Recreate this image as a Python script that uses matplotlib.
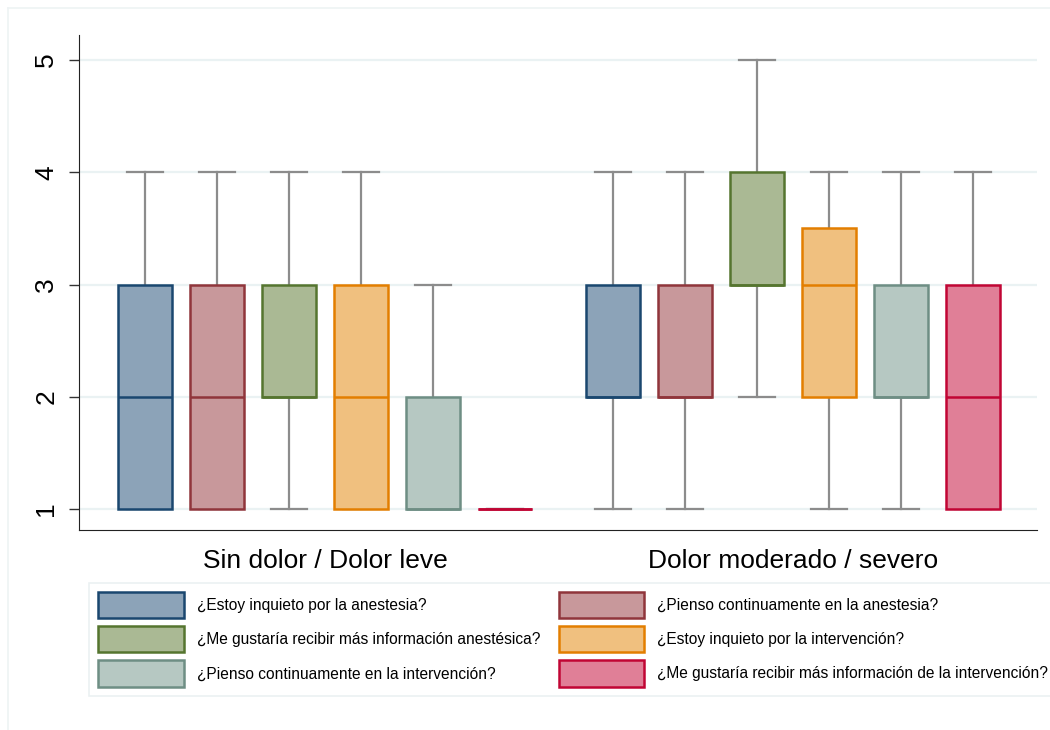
import matplotlib
matplotlib.use("Agg")
import matplotlib.pyplot as plt
from matplotlib.patches import Patch
from matplotlib.lines import Line2D

plt.rcParams['font.family'] = ['Liberation Sans', 'DejaVu Sans']

# Data
groups = ["Sin dolor / Dolor leve", "Dolor moderado / severo"]
series = [
    "¿Estoy inquieto por la anestesia?",
    "¿Pienso continuamente en la anestesia?",
    "¿Me gustaría recibir más información anestésica?",
    "¿Estoy inquieto por la intervención?",
    "¿Pienso continuamente en la intervención?",
    "¿Me gustaría recibir más información de la intervención?",
]
# per group: one value per series
whislo = [[1, 1, 1, 1, 1, 1], [1, 1, 2, 1, 1, 1]]
q1 = [[1, 1, 2, 1, 1, 1], [2, 2, 3, 2, 2, 1]]
med = [[2, 2, 2, 2, 1, 1], [2, 2, 3, 3, 2, 2]]
q3 = [[3, 3, 3, 3, 2, 1], [3, 3, 4, 3.5, 3, 3]]
whishi = [[4, 4, 4, 4, 3, 1], [4, 4, 5, 4, 4, 4]]
yticks = [1, 2, 3, 4, 5]

# Stata s2color-like palette
fills = ["#8ca3b8", "#c8989b", "#aab994", "#f0c07f", "#b6c8c2", "#e07f97"]
edges = ["#1a476f", "#90353b", "#55752f", "#e37e00", "#6e8e84", "#c10534"]
whisk = "#8c8c8c"

fig = plt.figure(figsize=(10.5, 7.3), dpi=100)
ax = fig.add_axes([0.0752, 0.274, 0.9124, 0.678])

n = len(series)
group_start = [1.0, 7.5]
for s in range(n):
    stats = []
    pos = []
    for g in range(len(groups)):
        stats.append(dict(whislo=whislo[g][s], q1=q1[g][s], med=med[g][s],
                          q3=q3[g][s], whishi=whishi[g][s], fliers=[]))
        pos.append(group_start[g] + s)
    ax.bxp(stats, positions=pos, widths=0.75, capwidths=0.5,
           patch_artist=True, showfliers=False,
           boxprops=dict(facecolor=fills[s], edgecolor=edges[s], linewidth=1.8, zorder=3),
           medianprops=dict(color=edges[s], linewidth=1.8, zorder=4),
           whiskerprops=dict(color=whisk, linewidth=1.6, zorder=2),
           capprops=dict(color=whisk, linewidth=1.6, zorder=2))

ax.set_xlim(0.083, 13.39)
ax.set_ylim(0.813, 5.223)
ax.set_yticks(yticks)
ax.set_yticklabels([str(t) for t in yticks], rotation=90, va='center', fontsize=19)
ax.tick_params(axis='y', length=7, width=1, pad=8, color='#333333')
centers = [group_start[g] + (n - 1) / 2 for g in range(len(groups))]
ax.set_xticks(centers)
ax.set_xticklabels(groups, fontsize=19)
ax.tick_params(axis='x', length=0, pad=14)

ax.yaxis.grid(True, color='#eaf2f3', linewidth=1.6, zorder=0)
ax.set_axisbelow(True)
for sp in ['top', 'right']:
    ax.spines[sp].set_visible(False)
ax.spines['left'].set_color('#222222')
ax.spines['bottom'].set_color('#222222')

# legend, row-wise order -> reorder for column-first filling
handles = [Patch(facecolor=fills[i], edgecolor=edges[i], linewidth=1.8) for i in range(n)]
order = [0, 2, 4, 1, 3, 5]
leg = fig.legend([handles[i] for i in order], [series[i] for i in order],
                 ncol=2, loc='upper left', bbox_to_anchor=(0.0848, 0.202),
                 borderaxespad=0, fontsize=11.2, handlelength=5.5, handleheight=2.2,
                 handletextpad=0.85, columnspacing=1.15, labelspacing=0.53,
                 borderpad=0.6, fancybox=False, frameon=True, edgecolor='#e6eeef')
leg.get_frame().set_linewidth(1.2)

# faint outer frame
fig.add_artist(Line2D([8 / 1050, 1], [1 - 8 / 730, 1 - 8 / 730], color='#eef3f4', lw=1.2))
fig.add_artist(Line2D([8 / 1050, 8 / 1050], [0, 1 - 8 / 730], color='#eef3f4', lw=1.2))

fig.savefig("out.png", dpi=100, facecolor='white')
